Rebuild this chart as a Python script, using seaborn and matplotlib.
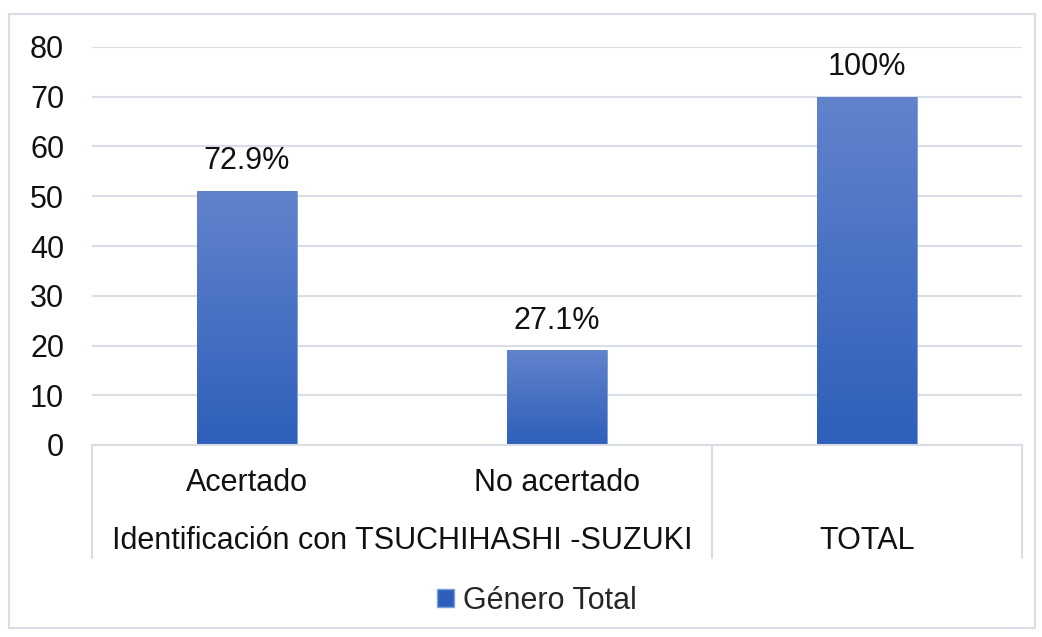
import numpy as np
import pandas as pd
import matplotlib
matplotlib.use("Agg")
import matplotlib.pyplot as plt
from matplotlib.patches import Rectangle
from matplotlib.lines import Line2D
import seaborn as sns

# data
categories = ["Acertado", "No acertado", "TOTAL"]
values = [51, 19, 70]
labels = ["72.9%", "27.1%", "100%"]
groups = ["Identificación con TSUCHIHASHI -SUZUKI", "TOTAL"]
group_spans = [(0, 1), (2, 2)]
series_name = "Género Total"

df = pd.DataFrame({"cat": categories, "val": values})

sns.set_theme(style="white")
plt.rcParams["font.family"] = ["Liberation Sans", "DejaVu Sans"]

FS = 22
grid_col = "#d9dde6"
txt_col = "#111111"
top_col = np.array([98, 131, 204]) / 255
bot_col = np.array([46, 95, 186]) / 255

fig = plt.figure(figsize=(10.42, 6.37), dpi=100)
ax = fig.add_axes([92 / 1042, 1 - 445 / 637, 930 / 1042, 398 / 637])

sns.barplot(data=df, x="cat", y="val", color=bot_col, width=0.32, ax=ax,
            saturation=1)

ax.set_xlim(-0.5, 2.5)
ax.set_ylim(0, 80)
ax.set_yticks(range(0, 81, 10))
ax.yaxis.grid(True, color=grid_col, lw=1.5)
ax.set_axisbelow(True)
for s in ["top", "right", "left"]:
    ax.spines[s].set_visible(False)
ax.spines["bottom"].set_color(grid_col)
ax.spines["bottom"].set_linewidth(1.5)
ax.tick_params(axis="y", length=0, labelsize=FS, pad=20, colors=txt_col)
ax.set_xticks([])
ax.set_xlabel("")
ax.set_ylabel("")

# gradient fill on each bar
grad = np.linspace(0, 1, 256)[:, None]
img = top_col[None, None, :] * (1 - grad[..., None]) + bot_col[None, None, :] * grad[..., None]
for p in ax.patches:
    x0, y0 = p.get_x(), p.get_y()
    w, h = p.get_width(), p.get_height()
    im = ax.imshow(img, extent=[x0, x0 + w, y0, y0 + h], aspect="auto",
                   origin="upper", zorder=p.get_zorder() + 0.1)
    im.set_clip_path(p)
    p.set_edgecolor("#7f9fd8")
    p.set_linewidth(0.6)

for i, (v, lab) in enumerate(zip(values, labels)):
    ax.text(i, v + 6, lab, ha="center", va="center", fontsize=FS, color=txt_col)

# category labels (two levels)
trans = ax.get_xaxis_transform()
for i, c in enumerate(categories[:2]):
    ax.text(i, -0.095, c, transform=trans, ha="center", va="center",
            fontsize=FS, color=txt_col)
for g, (a, b) in zip(groups, group_spans):
    ax.text((a + b) / 2, -0.24, g, transform=trans, ha="center", va="center",
            fontsize=FS, color=txt_col)

# separators in the category axis
for xs in [-0.5, 1.5, 2.5]:
    ax.add_line(Line2D([xs, xs], [0, -0.285], transform=trans, color=grid_col,
                       lw=1.5, clip_on=False))

# legend
handle = Rectangle((0, 0), 1, 1, facecolor=bot_col, edgecolor="#7f9fd8")
fig.legend([handle], [series_name], loc="center", bbox_to_anchor=(0.515, 1 - 601 / 637),
           frameon=False, fontsize=FS, handlelength=0.55, handleheight=0.55,
           handletextpad=0.3, borderpad=0)

# outer chart border
fig.patches.append(Rectangle((9 / 1042, 1 - 628 / 637), 1026 / 1042, 614 / 637,
                             transform=fig.transFigure, fill=False,
                             edgecolor=grid_col, lw=1.5))

fig.savefig("out.png", dpi=100, facecolor="white")
